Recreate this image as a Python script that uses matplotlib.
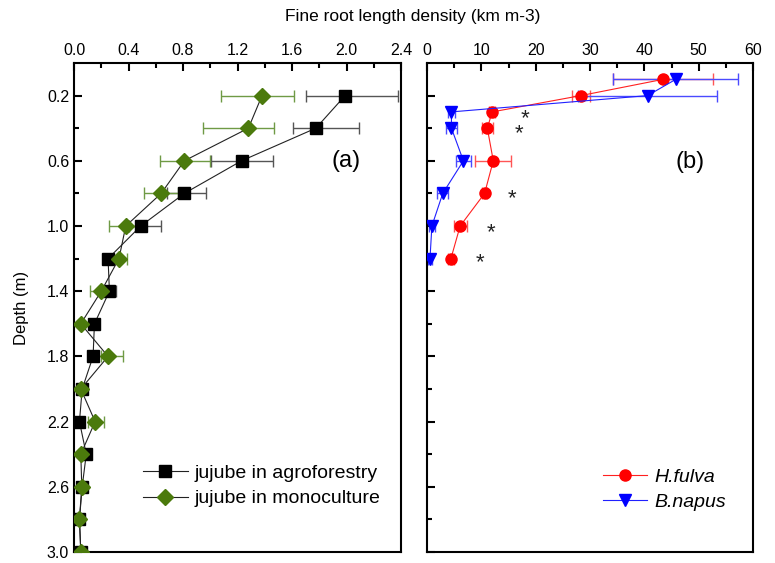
import numpy as np
import matplotlib
matplotlib.use("Agg")
import matplotlib.pyplot as plt
from matplotlib.ticker import MultipleLocator, FixedLocator

plt.rcParams['font.family'] = ['Liberation Sans', 'DejaVu Sans']

# (a) jujube
depth_a = [0.2, 0.4, 0.6, 0.8, 1.0, 1.2, 1.4, 1.6, 1.8, 2.0, 2.2, 2.4, 2.6, 2.8, 3.0]
agro = [1.99, 1.775, 1.23, 0.81, 0.49, 0.25, 0.26, 0.15, 0.14, 0.06, 0.04, 0.09, 0.06, 0.04, 0.05]
agro_lo = [0.29, 0.165, 0.225, 0.13, 0.09, 0.02, 0.03, 0.0, 0.02, 0.01, 0.01, 0.01, 0.01, 0.0, 0.0]
agro_hi = [0.39, 0.315, 0.23, 0.16, 0.15, 0.03, 0.05, 0.0, 0.02, 0.01, 0.01, 0.02, 0.01, 0.0, 0.0]
mono = [1.38, 1.28, 0.81, 0.64, 0.38, 0.33, 0.20, 0.05, 0.25, 0.05, 0.155, 0.05, 0.057, 0.04, 0.05]
mono_lo = [0.30, 0.33, 0.18, 0.125, 0.12, 0.05, 0.08, 0.0, 0.05, 0.01, 0.05, 0.01, 0.01, 0.0, 0.0]
mono_hi = [0.235, 0.19, 0.19, 0.12, 0.11, 0.06, 0.05, 0.0, 0.11, 0.01, 0.065, 0.01, 0.01, 0.0, 0.0]

# (b) crops
depth_b = [0.1, 0.2, 0.3, 0.4, 0.6, 0.8, 1.0, 1.2]
hfulva = [43.5, 28.3, 12.0, 11.1, 12.2, 10.6, 6.1, 4.4]
hfulva_err = [9.2, 1.7, 0.5, 1.0, 3.3, 0.5, 1.2, 0.5]
bnapus = [45.8, 40.6, 4.5, 4.5, 6.7, 2.9, 0.9, 0.55]
bnapus_err = [11.5, 12.8, 0.6, 1.0, 1.4, 1.0, 0.6, 0.3]

# significance marks (the two close ones at 0.3/0.4 m share one text)
star_txt = [' *\n*', '*', '*', '*']
star_x = [17.5, 15.6, 11.7, 9.8]
star_y = [0.39, 0.83, 1.04, 1.225]

W, H = 775, 563
fig = plt.figure(figsize=(W/100, H/100), dpi=100)
ax1 = fig.add_axes([74/W, (H-552)/H, (401-74)/W, (552-63)/H])
ax2 = fig.add_axes([427/W, (H-552)/H, (753-427)/W, (552-63)/H])

green = '#4b7a0c'
ax1.errorbar(agro, depth_a, xerr=[agro_lo, agro_hi], fmt='none', ecolor='#555555',
             elinewidth=1, capsize=4, capthick=1, zorder=2)
ax1.errorbar(mono, depth_a, xerr=[mono_lo, mono_hi], fmt='none', ecolor='#6f9a45',
             elinewidth=1, capsize=4, capthick=1, zorder=2)
ax1.plot(agro, depth_a, color='#222222', lw=0.8, marker='s', ms=8, mfc='black', mec='black',
         label='jujube in agroforestry', zorder=3)
ax1.plot(mono, depth_a, color='#222222', lw=0.8, marker='D', ms=8, mfc=green, mec=green,
         label='jujube in monoculture', zorder=4)

ax2.errorbar(hfulva, depth_b, xerr=hfulva_err, fmt='none', ecolor='#ff5555',
             elinewidth=1, capsize=4, capthick=1, zorder=2)
ax2.errorbar(bnapus, depth_b, xerr=bnapus_err, fmt='none', ecolor='#4a4aff',
             elinewidth=1, capsize=4, capthick=1, zorder=2)
ax2.plot(hfulva, depth_b, color='#ff2020', lw=0.8, marker='o', ms=8, mfc='#ff0000', mec='#ff0000',
         label='H.fulva', zorder=3)
ax2.plot(bnapus, depth_b, color='#2020ff', lw=0.8, marker='v', ms=9, mfc='#0000ff', mec='#0000ff',
         label='B.napus', zorder=4)
for st, sx, sy in zip(star_txt, star_x, star_y):
    ax2.text(sx, sy, st, fontsize=16, ha='center', va='center', color='#222222',
             multialignment='left', linespacing=0.6)

ax1.set_xlim(0, 2.4)
ax2.set_xlim(0, 60)
for ax in (ax1, ax2):
    ax.set_ylim(3.0, 0.0)
    ax.yaxis.set_major_locator(FixedLocator([0.2, 0.6, 1.0, 1.4, 1.8, 2.2, 2.6, 3.0]))
    ax.yaxis.set_minor_locator(FixedLocator([0.4, 0.8, 1.2, 1.6, 2.0, 2.4, 2.8]))
    ax.xaxis.tick_top()
    ax.tick_params(which='both', direction='in', top=True, bottom=False, left=True, right=False,
                   width=1.5, labelsize=11.5)
    ax.tick_params(which='major', length=6)
    ax.tick_params(which='minor', length=3.5)
    for s in ax.spines.values():
        s.set_linewidth(1.5)

ax1.xaxis.set_major_locator(MultipleLocator(0.4))
ax1.xaxis.set_minor_locator(MultipleLocator(0.2))
ax1.xaxis.set_major_formatter(matplotlib.ticker.FormatStrFormatter('%.1f'))
ax1.yaxis.set_major_formatter(matplotlib.ticker.FormatStrFormatter('%.1f'))
ax2.xaxis.set_major_locator(MultipleLocator(10))
ax2.xaxis.set_minor_locator(MultipleLocator(5))
ax2.tick_params(axis='y', labelleft=False)

ax1.set_ylabel('Depth (m)', fontsize=12)
ax1.yaxis.set_label_coords(-0.138, 0.5)
fig.text(413/W, 1 - 17/H, 'Fine root length density (km m-3)', ha='center', va='center', fontsize=12.5)

ax1.text(2.0, 0.6, '(a)', fontsize=17, ha='center', va='center')
ax2.text(48.4, 0.61, '(b)', fontsize=17, ha='center', va='center')

leg1 = ax1.legend(loc='center left', bbox_to_anchor=(0.187, 0.135), borderaxespad=0,
                  frameon=False, fontsize=14, handlelength=2.3, handletextpad=0.36,
                  labelspacing=0.4)
leg2 = ax2.legend(loc='center left', bbox_to_anchor=(0.515, 0.128), borderaxespad=0,
                  frameon=False, fontsize=14, handlelength=2.3, handletextpad=0.36,
                  labelspacing=0.4)
for t in leg2.get_texts():
    t.set_fontstyle('italic')

fig.savefig('out.png', dpi=100)
